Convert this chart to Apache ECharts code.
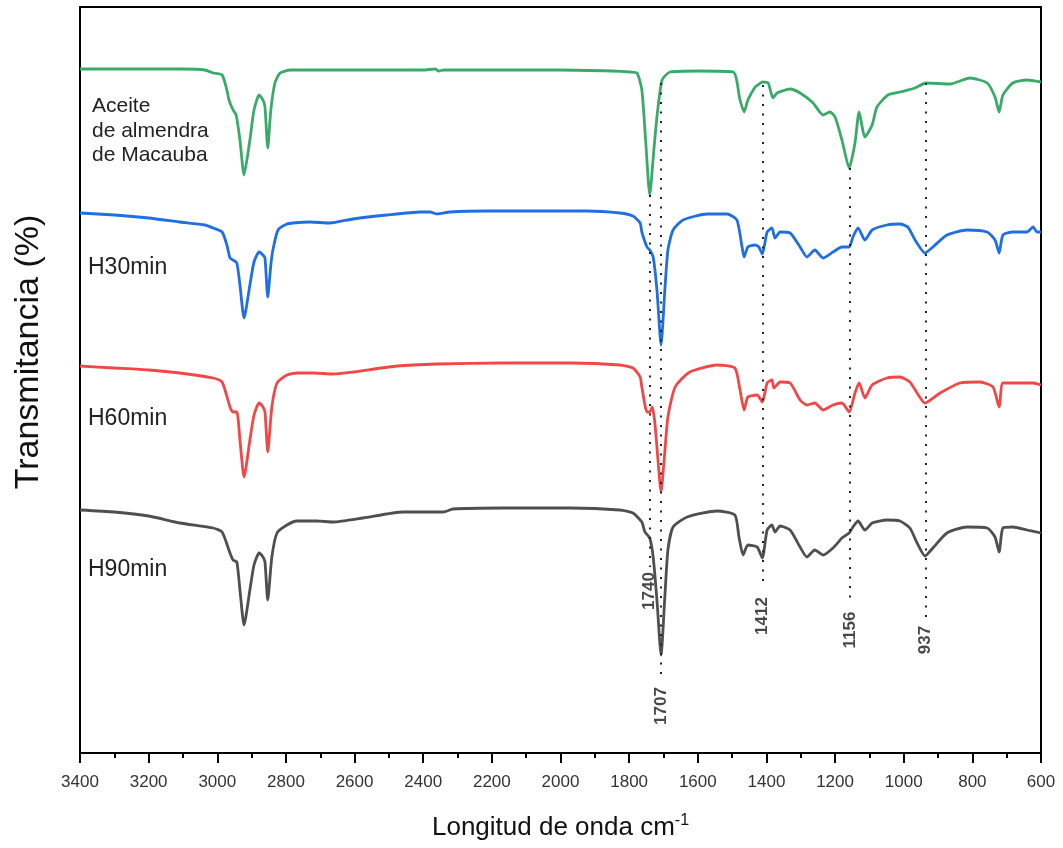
<!DOCTYPE html>
<html>
<head>
<meta charset="utf-8">
<script src="https://cdn.jsdelivr.net/npm/echarts@6/dist/echarts.min.js"></script>
<style>
html,body{margin:0;padding:0;background:#fff;}
#chart{width:1063px;height:848px;}
</style>
</head>
<body>
<div id="chart"></div>
<script>
// FTIR spectra: [wavenumber (cm-1), transmittance (a.u., offset)]
const aceite = [
[3400,342],[3200,342],[3100,342],[3036,341.5],[3012,340],[2986,339],[2972,331.5],[2966,326.5],[2954,321.5],[2945,319],
[2934,306.5],[2922,289],[2905,306.5],[2893,321.5],[2878,329],[2867,326.5],[2861,323],[2853,302.5],[2844,321.5],[2832,335],
[2817,340],[2788,341.5],[2600,341.5],[2400,341.5],[2365,342],[2355,341],[2340,341.5],[2200,341.5],[2000,341.5],[1850,341],
[1797,340.5],[1777,340],[1763,331.5],[1752,306.5],[1740,279],[1728,301.5],[1719,318],[1704,336.5],[1681,340.5],[1600,341],
[1497,340.5],[1477,326.5],[1465,320.5],[1454,326.5],[1433,333],[1425,334],[1412,335.5],[1395,335],[1381,327.5],[1369,330],
[1331,332],[1302,330],[1264,325],[1235,319],[1215,320.5],[1200,318],[1180,306.5],[1159,292.5],[1142,305],[1130,320.5],
[1113,308],[1092,314],[1078,323],[1046,329],[1011,330.5],[967,332.5],[935,335],[865,334.5],[807,337.5],[757,335],
[734,328],[722,320.5],[711,329],[682,335],[641,336.5],[600,335.5]
];
const h30 = [
[3400,270],[3300,269],[3200,267.5],[3109,265.5],[3036,264],[3012,262.5],[2986,260.5],[2972,254],[2963,247.5],[2954,246.5],
[2943,245],[2934,234],[2922,217.5],[2905,234],[2893,245.5],[2878,250.5],[2867,249],[2861,247.5],[2853,228],[2844,244],
[2838,251.5],[2823,261.5],[2797,264.5],[2779,265],[2730,265.5],[2672,265],[2605,267],[2506,269],[2409,270.5],[2380,270.5],
[2360,269.5],[2322,270.5],[2214,271],[2068,271],[1923,271],[1827,270],[1789,268.5],[1768,265],[1763,260.5],[1748,253],
[1740,251.5],[1730,248],[1719,231.5],[1707,204],[1696,231.5],[1687,251.5],[1672,261.5],[1643,266.5],[1573,269.5],[1515,269.5],
[1486,266.5],[1471,253],[1465,248],[1454,253],[1433,254],[1422,253],[1412,249.5],[1398,260.5],[1384,262.5],[1375,257.5],
[1360,260.5],[1331,260],[1302,253],[1282,248],[1259,251.5],[1235,247.5],[1206,250.5],[1180,253],[1159,253],[1148,258],
[1133,262.5],[1113,256.5],[1092,261.5],[1049,264],[1011,264.5],[988,263],[967,256.5],[938,250],[915,253],[874,259],
[816,261.5],[757,260.5],[734,256.5],[722,250],[711,259],[682,260.5],[641,260.5],[623,263],[612,260.5],[600,260.5]
];
const h60 = [
[3400,193.5],[3300,192.5],[3200,191.5],[3109,190],[3012,187.5],[2986,185.5],[2963,173],[2954,170.5],[2943,170.5],[2934,156.5],
[2922,138],[2905,156.5],[2893,169],[2878,175],[2867,173],[2861,170.5],[2853,150.5],[2841,173],[2826,185],[2797,189],
[2768,190],[2721,190],[2663,189.5],[2605,190.5],[2476,193.5],[2360,194.5],[2168,195],[1972,195],[1827,194],[1789,192.5],
[1768,188],[1763,183],[1748,170.5],[1740,170.5],[1733,173],[1725,165],[1716,146.5],[1707,130.5],[1698,146.5],[1687,168],
[1666,183],[1623,190.5],[1544,194],[1492,192.5],[1477,181.5],[1465,171.5],[1454,178],[1427,179],[1412,175.5],[1398,185],
[1384,186.5],[1378,182.5],[1360,185.5],[1331,185],[1302,176.5],[1282,174],[1259,175],[1235,171.5],[1206,174],[1180,175],
[1159,170.5],[1142,180],[1130,185],[1113,177.5],[1092,184],[1049,187.5],[1011,188],[982,185.5],[961,180],[938,175],
[894,180],[836,185],[778,185.5],[740,183],[722,173],[711,185],[670,185],[623,185],[600,184]
];
const h90 = [
[3400,121.5],[3300,120.5],[3200,118.5],[3109,115],[3012,112.5],[2986,110.5],[2963,100],[2954,96.5],[2943,95.5],[2934,81.5],
[2922,64],[2905,81.5],[2893,94],[2878,100],[2867,98],[2861,95.5],[2853,76.5],[2841,98],[2826,110],[2797,114],
[2768,116],[2709,116],[2663,115.5],[2575,117.5],[2459,120.5],[2342,120.5],[2313,122],[2168,122.5],[1972,122.5],[1827,121.5],
[1789,120],[1763,115.5],[1754,110.5],[1740,107.5],[1730,98],[1719,76.5],[1707,49],[1696,78],[1687,101.5],[1672,113],
[1631,118],[1544,121],[1492,119],[1480,108],[1468,99],[1454,104],[1427,103],[1412,97.5],[1398,111.5],[1384,114],
[1375,110.5],[1360,113.5],[1331,111.5],[1302,103],[1282,98],[1259,101.5],[1235,99],[1206,102.5],[1180,107.5],[1159,110],
[1148,113],[1133,116],[1113,111.5],[1092,115],[1049,116.5],[1011,116],[982,112.5],[961,105],[938,98.5],[915,102.5],
[874,110],[816,113],[757,112.5],[734,108],[722,100.5],[711,112.5],[682,113],[641,111.5],[600,110]
];

// Marked bands
const peakWn     = [1740, 1707, 1412, 1156, 937];
const peakTop    = [279, 335, 334, 292.5, 335];
const peakBottom = [93, 36.5, 82.5, 75, 68];
const peakLabelY = [81, 23.5, 68.5, 61.5, 56.5];

const xTicks = {min: 600, max: 3400, step: 200};

const FONT = '"Liberation Sans", Arial, Helvetica, sans-serif';
const colors = ['#3aaa68', '#1f6fe3', '#f24747', '#4f4f4f'];

const chart = echarts.init(document.getElementById('chart'), null, {renderer: 'canvas'});

function lineSeries(name, data, color) {
  return {
    name, type: 'line', data, showSymbol: false, smooth: 0.2,
    lineStyle: {color, width: 2.8}, itemStyle: {color}, silent: true, z: 3
  };
}

chart.setOption({
  animation: false,
  backgroundColor: '#ffffff',
  grid: {left: 80, right: 22, top: 7, bottom: 95, show: true, borderColor: '#000', borderWidth: 2,
         outerBoundsMode: 'none', containLabel: false},
  xAxis: {
    type: 'value', inverse: true, min: xTicks.min, max: xTicks.max, interval: xTicks.step,
    axisLine: {show: true, lineStyle: {color: '#000', width: 2}},
    axisTick: {show: true, length: 10, lineStyle: {color: '#000', width: 2}},
    minorTick: {show: true, splitNumber: 2, length: 5, lineStyle: {color: '#000', width: 2}},
    splitLine: {show: false},
    axisLabel: {color: '#333', fontSize: 17, fontFamily: FONT, margin: 21, formatter: v => String(v)},
    name: '{a|Longitud de onda cm}{b|-1}',
    nameLocation: 'middle', nameGap: 60,
    nameTextStyle: {
      color: '#111', fontFamily: FONT,
      rich: {
        a: {fontSize: 26, fontFamily: FONT, color: '#111', lineHeight: 30},
        b: {fontSize: 16, fontFamily: FONT, color: '#111', verticalAlign: 'top', lineHeight: 16}
      }
    }
  },
  yAxis: {
    type: 'value', min: 0, max: 373,
    axisLine: {show: true, lineStyle: {color: '#000', width: 2}},
    axisTick: {show: false}, axisLabel: {show: false}, splitLine: {show: false},
    name: 'Transmitancia (%)', nameLocation: 'middle', nameGap: 34,
    nameTextStyle: {fontSize: 34, fontFamily: FONT, color: '#111', padding: [0, 0, 0, 56]}
  },
  series: [
    lineSeries('Aceite de almendra de Macauba', aceite, colors[0]),
    lineSeries('H30min', h30, colors[1]),
    lineSeries('H60min', h60, colors[2]),
    lineSeries('H90min', h90, colors[3]),
    {
      name: 'bands', type: 'scatter', symbolSize: 0, silent: true, z: 5,
      data: peakWn.map((w, i) => [w, peakLabelY[i]]),
      label: {
        show: true, position: 'inside', rotate: 90,
        formatter: p => String(peakWn[p.dataIndex]),
        fontSize: 17, fontWeight: 'bold', fontFamily: FONT, color: '#1a1a1a'
      },
      markLine: {
        silent: true, symbol: ['none', 'none'], animation: false,
        label: {show: false},
        lineStyle: {type: [2, 7.5], color: '#222', width: 2},
        data: peakWn.map((w, i) => [{coord: [w, peakTop[i]]}, {coord: [w, peakBottom[i]]}])
      }
    }
  ],
  graphic: [
    {type: 'text', left: 92, top: 94, style: {text: 'Aceite\nde almendra\nde Macauba', font: '21px ' + FONT, fill: '#222', lineHeight: 24.5}},
    {type: 'text', left: 88, top: 256, style: {text: 'H30min', font: '23px ' + FONT, fill: '#222'}},
    {type: 'text', left: 88, top: 407, style: {text: 'H60min', font: '23px ' + FONT, fill: '#222'}},
    {type: 'text', left: 88, top: 558, style: {text: 'H90min', font: '23px ' + FONT, fill: '#222'}}
  ]
});
</script>
</body>
</html>
